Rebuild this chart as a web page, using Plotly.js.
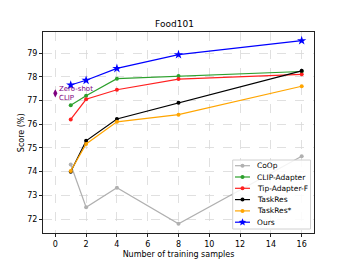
<!DOCTYPE html>
<html><head><meta charset="utf-8">
<script src="https://cdn.plot.ly/plotly-3.0.1.min.js"></script>
<style>html,body{margin:0;padding:0;background:#fff;}#chart{width:349px;height:262px;}</style>
</head><body><div id="chart"></div>
<script>
const shots = [1, 2, 4, 8, 16];
const coop = [74.3, 72.5, 73.32, 71.8, 74.65];
const clipAdapter = [76.8, 77.2, 77.92, 78.03, 78.22];
const tipAdapterF = [76.2, 77.05, 77.45, 77.9, 78.1];
const taskRes = [74.0, 75.3, 76.22, 76.9, 78.25];
const taskResStar = [74.03, 75.17, 76.1, 76.4, 77.6];
const ours = [77.65, 77.85, 78.35, 78.93, 79.52];
const zeroShotX = [0];
const zeroShotY = [77.3];
const seriesNames = ["CoOp", "CLIP-Adapter", "Tip-Adapter-F", "TaskRes", "TaskRes*", "Ours"];
const xTicks = [0, 2, 4, 6, 8, 10, 12, 14, 16];
const yTicks = [72, 73, 74, 75, 76, 77, 78, 79];

const colors = ["#b0b0b0", "#2ca02c", "#ff2020", "#000000", "#ffa500", "#0000ff"];
const data = [coop, clipAdapter, tipAdapterF, taskRes, taskResStar, ours];
const traces = data.map((y, i) => ({
  x: shots, y: y, name: seriesNames[i], type: "scatter", mode: "lines+markers", showlegend: false,
  line: {color: colors[i], width: 1.2},
  marker: {color: colors[i], size: i === 5 ? 7 : 4, symbol: i === 5 ? "star" : "circle"}
}));
traces.push({
  x: zeroShotX, y: zeroShotY, type: "scatter", mode: "markers", showlegend: false,
  marker: {color: "#800080", size: 6, symbol: "diamond-tall"},
  error_y: {type: "constant", value: 0.12, color: "#800080", width: 0, thickness: 1}
});

// plot area pixel geometry (for the hand-drawn compact legend)
const PL = 43, PR = 314, PT = 32, PB = 233;
const px = v => (v - PL) / (PR - PL);
const py = v => (PB - v) / (PB - PT);
const shapes = [{type: "rect", xref: "paper", yref: "paper", x0: px(232.7), x1: px(310.5), y0: py(229), y1: py(160),
  line: {color: "#d0d0d0", width: 1}, fillcolor: "rgba(255,255,255,0.85)", layer: "above"}];
const annotations = [
  {x: 0, y: 77.3, xref: "x", yref: "y", text: "Zero-shot<br>CLIP", showarrow: false,
   xanchor: "left", yanchor: "middle", xshift: 2, align: "left", font: {size: 7, color: "#800080"}},
  {xref: "paper", yref: "paper", x: px(21.7), y: 0.5, text: "Score (%)", textangle: -90, showarrow: false,
   xanchor: "center", yanchor: "middle", font: {size: 8, color: "#000"}}
];
seriesNames.forEach((n, i) => {
  const yy = 165.7 + i * 11.3;
  shapes.push({type: "line", xref: "paper", yref: "paper", x0: px(235), x1: px(250), y0: py(yy), y1: py(yy),
    line: {color: colors[i], width: 1.2}, layer: "above"});
  if (i === 5) {
    let path = "";
    for (let k = 0; k < 10; k++) {
      const r = k % 2 === 0 ? 4 : 1.7;
      const a = -Math.PI / 2 + k * Math.PI / 5;
      path += (k === 0 ? "M" : "L") + (r * Math.cos(a)).toFixed(2) + "," + (-r * Math.sin(a)).toFixed(2);
    }
    path += "Z";
    shapes.push({type: "path", xref: "paper", yref: "paper", xsizemode: "pixel", ysizemode: "pixel",
      xanchor: px(242.5), yanchor: py(yy), path: path, fillcolor: colors[i], line: {width: 0}, layer: "above"});
  } else {
    shapes.push({type: "circle", xref: "paper", yref: "paper", xsizemode: "pixel", ysizemode: "pixel",
      xanchor: px(242.5), yanchor: py(yy), x0: -2, x1: 2, y0: -2, y1: 2,
      fillcolor: colors[i], line: {width: 0}, layer: "above"});
  }
  annotations.push({xref: "paper", yref: "paper", x: px(255), y: py(yy), text: n, showarrow: false,
    xanchor: "left", yanchor: "middle", font: {size: 7.5, color: "#000"}});
});

const layout = {
  width: 349, height: 262,
  margin: {l: PL, r: 349 - PR, t: PT, b: 262 - PB},
  paper_bgcolor: "#fff", plot_bgcolor: "#fff",
  font: {family: "DejaVu Sans", size: 8, color: "#000"},
  title: {text: "Food101", font: {size: 9}, x: 0.5, xanchor: "center", y: 1 - 23.7/262, yanchor: "middle"},
  xaxis: {range: [-0.8, 16.8], tickvals: xTicks, ticks: "outside", ticklen: 3, tickcolor: "#222",
    showgrid: true, gridcolor: "#d8d8d8", griddash: "dash", gridwidth: 0.8, zeroline: false,
    showline: true, mirror: true, linecolor: "#222", linewidth: 1,
    title: {text: "Number of training samples", font: {size: 8}, standoff: 3}},
  yaxis: {range: [71.415, 79.885], tickvals: yTicks, ticks: "outside", ticklen: 3, tickcolor: "#222",
    showgrid: true, gridcolor: "#d8d8d8", griddash: "dash", gridwidth: 0.8, zeroline: false,
    showline: true, mirror: true, linecolor: "#222", linewidth: 1},
  showlegend: false,
  shapes: shapes,
  annotations: annotations
};
Plotly.newPlot("chart", traces, layout, {displayModeBar: false, staticPlot: true});
</script></body></html>
